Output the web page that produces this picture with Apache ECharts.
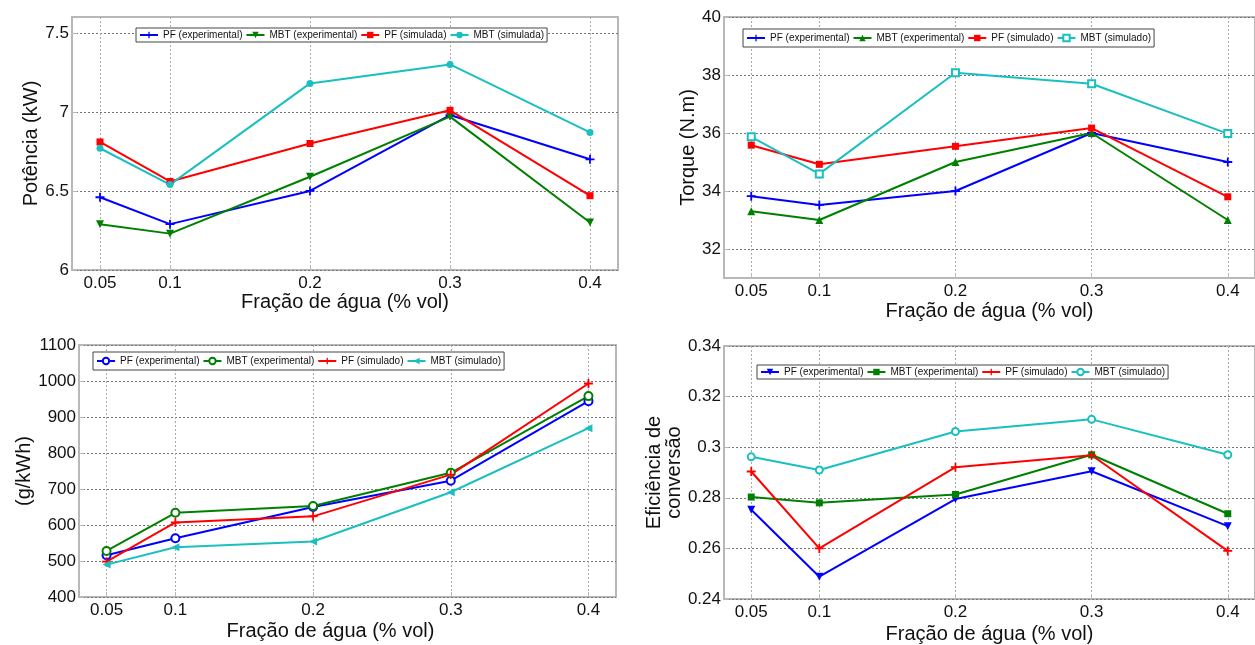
<!DOCTYPE html>
<html>
<head>
<meta charset="utf-8">
<script src="https://cdn.jsdelivr.net/npm/echarts@6/dist/echarts.min.js"></script>
<style>
html,body{margin:0;padding:0;background:#fff;}
#c{width:1255px;height:645px;}
</style>
</head>
<body>
<div id="c"></div>
<script>
// ---- data ----
const xVals = [0.05, 0.1, 0.2, 0.3, 0.4];
const xTicks = [0.05, 0.1, 0.2, 0.3, 0.4];

const legendNamesA = ['PF (experimental)', 'MBT (experimental)', 'PF (simulada)', 'MBT (simulada)'];
const legendNamesB = ['PF (experimental)', 'MBT (experimental)', 'PF (simulado)', 'MBT (simulado)'];

// Potência (kW)
const pwrPfExp  = [6.46, 6.29, 6.50, 6.98, 6.70];
const pwrMbtExp = [6.29, 6.23, 6.59, 6.97, 6.30];
const pwrPfSim  = [6.81, 6.56, 6.80, 7.01, 6.47];
const pwrMbtSim = [6.77, 6.54, 7.18, 7.30, 6.87];
const pwrTicks  = [6, 6.5, 7, 7.5];

// Torque (N.m)
const tqPfExp  = [33.82, 33.52, 34.00, 36.00, 35.00];
const tqMbtExp = [33.30, 33.00, 35.00, 36.00, 33.00];
const tqPfSim  = [35.58, 34.92, 35.54, 36.17, 33.80];
const tqMbtSim = [35.87, 34.59, 38.08, 37.70, 35.98];
const tqTicks  = [32, 34, 36, 38, 40];

// (g/kWh)
const scPfExp  = [516, 563, 650, 723, 944];
const scMbtExp = [528, 634, 653, 745, 958];
const scPfSim  = [498, 607, 624, 740, 993];
const scMbtSim = [490, 538, 554, 691, 869];
const scTicks  = [400, 500, 600, 700, 800, 900, 1000, 1100];

// Eficiência de conversão
const efPfExp  = [0.2753, 0.2488, 0.2795, 0.2905, 0.2688];
const efMbtExp = [0.2803, 0.2780, 0.2813, 0.2970, 0.2737];
const efPfSim  = [0.2904, 0.2600, 0.2921, 0.2968, 0.2590];
const efMbtSim = [0.2962, 0.2910, 0.3062, 0.3110, 0.2970];
const efTicks  = [0.24, 0.26, 0.28, 0.3, 0.32, 0.34];

// ---- styling ----
const BLUE = '#0000ff', GREEN = '#008000', RED = '#ff0000', CYAN = '#1abfbf';
const PLUS = 'path://M4,0H6V4H10V6H6V10H4V6H0V4H4Z';
const TRI_DOWN = 'path://M0,0H10L5,9Z';
const TRI_UP = 'path://M5,0L10,9H0Z';
const TRI_LEFT = 'path://M0,5L9,0V10Z';
const FONT = 'Liberation Sans';

const grids = [
  {left: 72,  top: 17,  width: 546, height: 253},
  {left: 724, top: 17,  width: 541, height: 261},
  {left: 79,  top: 345, width: 537, height: 252},
  {left: 724, top: 346, width: 543, height: 254}
].map(g => Object.assign(g, {show: true, borderColor: '#b8b8b8', borderWidth: 2, containLabel: false}));

function xAxis(i, namePad) {
  return {
    type: 'value', gridIndex: i, min: 0.03, max: 0.42,
    name: 'Fração de água (% vol)', nameLocation: 'middle', nameGap: [22, 23, 24, 25][i],
    nameTextStyle: {fontSize: 20, color: '#111', fontFamily: FONT, padding: namePad || 0},
    axisLine: {show: false},
    axisTick: {show: true, inside: true, length: 5, lineStyle: {color: '#b8b8b8'}, customValues: xTicks},
    axisLabel: {fontSize: 17, color: '#111', fontFamily: FONT, margin: 5, customValues: xTicks,
                formatter: v => String(v)},
    splitLine: {show: true, lineStyle: {color: '#aaa', type: [2, 2], width: 1}}
  };
}
function yAxis(i, min, max, ticks, name, gap) {
  return {
    type: 'value', gridIndex: i, min: min, max: max,
    name: name, nameLocation: 'middle', nameGap: gap, nameRotate: 90,
    nameTextStyle: {fontSize: 20, color: '#111', fontFamily: FONT, lineHeight: 20},
    axisLine: {show: false},
    axisTick: {show: true, inside: true, length: 5, lineStyle: {color: '#b8b8b8'}, customValues: ticks},
    axisLabel: {fontSize: 17, color: '#111', fontFamily: FONT, margin: 3, customValues: ticks,
                formatter: v => String(v)},
    splitLine: {show: true, lineStyle: {color: '#777', type: [2, 2], width: 1}}
  };
}
function ser(gi, name, vals, color, symbol, size, extra) {
  return Object.assign({
    type: 'line', name: 'p' + gi + '|' + name, xAxisIndex: gi, yAxisIndex: gi,
    data: xVals.map((x, k) => [x, vals[k]]),
    symbol: symbol, symbolSize: size, showSymbol: true,
    lineStyle: {color: color, width: 2},
    itemStyle: {color: color},
    emphasis: {disabled: true}, animation: false, silent: true
  }, extra || {});
}
const emptyStyle = c => ({itemStyle: {color: c, borderColor: c, borderWidth: 2}});

function legend(gi, names, left, top, padV) {
  return {
    show: true, left: left, top: top, orient: 'horizontal',
    data: names.map(n => 'p' + gi + '|' + n),
    formatter: n => n.split('|')[1],
    itemWidth: 18, itemHeight: 8, itemGap: 3,
    padding: [padV, 3, padV, 3],
    borderColor: '#444', borderWidth: 1, backgroundColor: '#fff',
    selectedMode: false,
    textStyle: {fontSize: 10, color: '#111', fontFamily: FONT}
  };
}

const option = {
  backgroundColor: '#fff',
  animation: false,
  grid: grids,
  xAxis: [xAxis(0), xAxis(1), xAxis(2, [0, 34, 0, 0]), xAxis(3)],
  yAxis: [
    yAxis(0, 6, 7.6, pwrTicks, 'Potência (kW)', 27),
    yAxis(1, 31, 40, tqTicks, 'Torque (N.m)', 25),
    yAxis(2, 400, 1100, scTicks, '(g/kWh)', 42),
    yAxis(3, 0.24, 0.34, efTicks, 'Eficiência de\nconversão', 40)
  ],
  legend: [
    legend(0, legendNamesA, 136, 28, 2),
    legend(1, legendNamesB, 743, 29, 4),
    legend(2, legendNamesB, 93, 352, 4),
    legend(3, legendNamesB, 757, 365, 2)
  ],
  series: [
    ser(0, legendNamesA[0], pwrPfExp, BLUE, PLUS, 9),
    ser(0, legendNamesA[1], pwrMbtExp, GREEN, TRI_DOWN, 8),
    ser(0, legendNamesA[2], pwrPfSim, RED, 'rect', 7),
    ser(0, legendNamesA[3], pwrMbtSim, CYAN, 'circle', 7),

    ser(1, legendNamesB[0], tqPfExp, BLUE, PLUS, 9),
    ser(1, legendNamesB[1], tqMbtExp, GREEN, TRI_UP, 8),
    ser(1, legendNamesB[2], tqPfSim, RED, 'rect', 7),
    ser(1, legendNamesB[3], tqMbtSim, CYAN, 'emptyRect', 7, emptyStyle(CYAN)),

    ser(2, legendNamesB[0], scPfExp, BLUE, 'emptyCircle', 8, emptyStyle(BLUE)),
    ser(2, legendNamesB[1], scMbtExp, GREEN, 'emptyCircle', 8, emptyStyle(GREEN)),
    ser(2, legendNamesB[2], scPfSim, RED, PLUS, 9),
    ser(2, legendNamesB[3], scMbtSim, CYAN, TRI_LEFT, 8),

    ser(3, legendNamesB[0], efPfExp, BLUE, TRI_DOWN, 8),
    ser(3, legendNamesB[1], efMbtExp, GREEN, 'rect', 7),
    ser(3, legendNamesB[2], efPfSim, RED, PLUS, 9),
    ser(3, legendNamesB[3], efMbtSim, CYAN, 'emptyCircle', 7, emptyStyle(CYAN))
  ]
};

const chart = echarts.init(document.getElementById('c'), null, {renderer: 'canvas'});
chart.setOption(option);
</script>
</body>
</html>
